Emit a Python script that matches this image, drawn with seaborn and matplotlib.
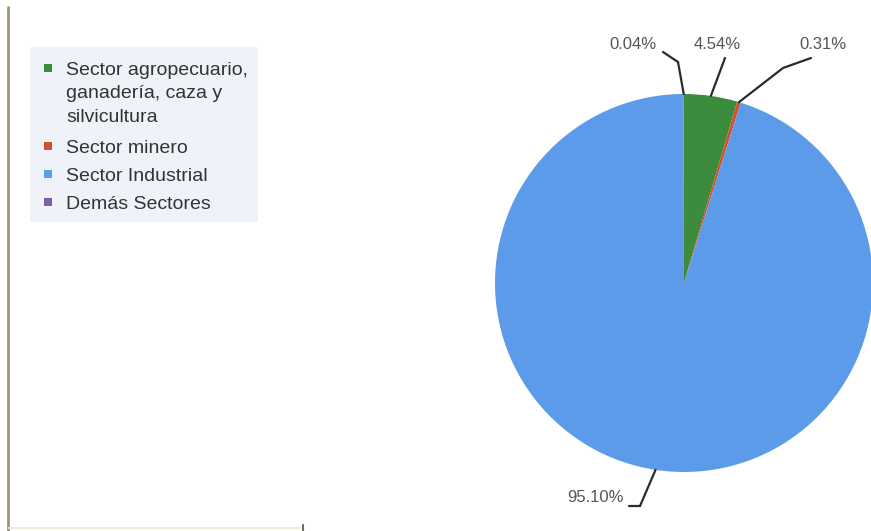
import matplotlib
matplotlib.use("Agg")
import matplotlib.pyplot as plt
from matplotlib.patches import Rectangle
from matplotlib.lines import Line2D
import numpy as np
import seaborn as sns

sns.set_theme(style="white")
plt.rcParams["font.family"] = ["Liberation Sans", "DejaVu Sans"]

# Data: share of each sector (%)
sectors = [
    "Sector agropecuario,\nganadería, caza y\nsilvicultura",
    "Sector minero",
    "Sector Industrial",
    "Demás Sectores",
]
shares = [4.54, 0.31, 95.10, 0.04]
share_labels = ["4.54%", "0.31%", "95.10%", "0.04%"]

palette = sns.color_palette(["#3d8b3d", "#d2502b", "#5b9be9", "#7b619f"])

W, H = 871, 531
fig = plt.figure(figsize=(W / 100, H / 100), dpi=100)
fig.patch.set_facecolor("white")

# Pie axes placed in pixel terms: centre (684, 283), radius 189
cx, cy, r = 684, 283, 189
ax = fig.add_axes([(cx - r) / W, (H - cy - r) / H, 2 * r / W, 2 * r / H])
wedges, _ = ax.pie(shares, colors=palette, startangle=90, counterclock=False,
                   radius=1, center=(0, 0), wedgeprops=dict(linewidth=0))
ax.set_xlim(-1, 1)
ax.set_ylim(-1, 1)
ax.set_aspect("auto")
ax.axis("off")


def px(x, y):
    """Pixel position -> pie data coordinates."""
    return (x - cx) / r, (cy - y) / r


# Leader lines: elbow/end points and text anchor (pixels) for each slice
leaders = {
    "4.54%": dict(path=[(725, 58)], text=(717, 44)),
    "0.31%": dict(path=[(783, 68), (811, 58)], text=(823, 44)),
    "95.10%": dict(path=[(640, 506), (629, 506)], text=(596, 498)),
    "0.04%": dict(path=[(678, 62), (663, 52)], text=(633, 44)),
}

for w, lab in zip(wedges, share_labels):
    mid = np.deg2rad((w.theta1 + w.theta2) / 2)
    x0, y0 = np.cos(mid), np.sin(mid)
    spec = leaders[lab]
    pts = [(x0, y0)] + [px(*p) for p in spec["path"]]
    xs, ys = zip(*pts)
    ax.add_line(Line2D(xs, ys, color="#2b2b2b", lw=1.6, clip_on=False,
                       solid_joinstyle="miter"))
    tx, ty = px(*spec["text"])
    ax.text(tx, ty, lab, ha="center", va="center", fontsize=12,
            color="#555555", clip_on=False)

# Decorative frame lines on the left and bottom
fig.add_artist(Line2D([8 / W, 8 / W], [0, 1 - 7 / H], transform=fig.transFigure,
                      color="#a09474", lw=2))
fig.add_artist(Line2D([9 / W, 300 / W], [1 - 528 / H, 1 - 528 / H],
                      transform=fig.transFigure, color="#f1ecd6", lw=1.5))
fig.add_artist(Line2D([303 / W, 303 / W], [0, 1 - 525 / H],
                      transform=fig.transFigure, color="#6a6a6a", lw=1.5))

# Legend panel
fig.add_artist(Rectangle((30 / W, 1 - 222 / H), 228 / W, 175 / H,
                         transform=fig.transFigure, facecolor="#eff2f8",
                         edgecolor="none"))

legend_rows = [68, 146, 174, 202]
line_step = 23.5
for lab, col, y in zip(sectors, palette, legend_rows):
    s = 8
    fig.add_artist(Rectangle(((48 - s / 2) / W, 1 - (y + s / 2) / H), s / W, s / H,
                             transform=fig.transFigure, facecolor=col,
                             edgecolor="none"))
    for i, part in enumerate(lab.split("\n")):
        fig.text(66 / W, 1 - (y + i * line_step + 7) / H, part, ha="left",
                 va="baseline", fontsize=14, color="#333333")

fig.savefig("out.png", dpi=100, facecolor="white")
